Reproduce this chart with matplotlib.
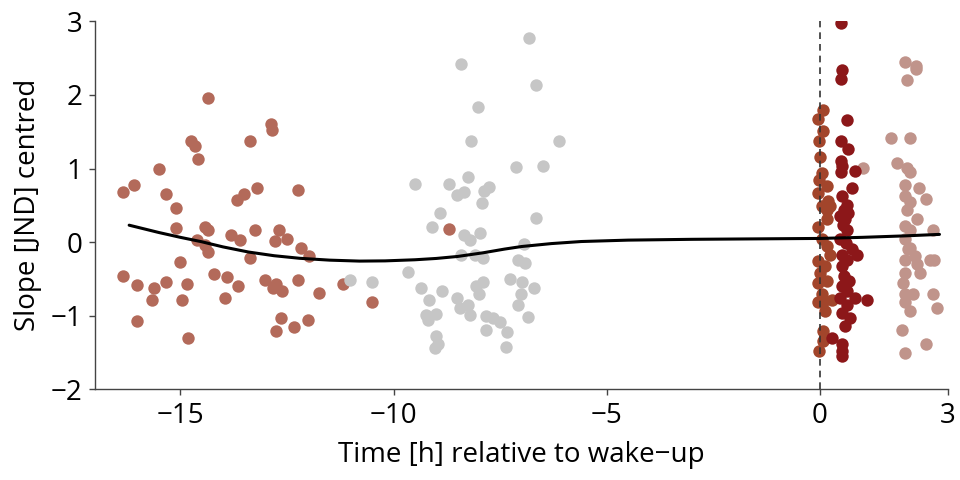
import matplotlib
matplotlib.use('Agg')
import matplotlib.pyplot as plt

# group 1: evening sessions (brown)
x_eve = [-14.34, -12.88, -12.86, -14.76, -14.66, -13.36, -14.59, -15.51, -16.35, -16.09,
         -15.34, -15.09, -13.68, -13.51, -13.21, -12.23, -15.10, -14.43, -14.34, -13.82,
         -13.59, -13.26, -12.69, -12.77, -12.50, -12.18, -11.98, -14.62, -14.42, -14.34,
         -13.37, -15.01, -16.35, -16.01, -15.62, -15.34, -14.84, -15.67, -14.96, -14.20,
         -13.91, -13.64, -13.96, -13.01, -12.75, -12.83, -12.61, -12.25, -11.75, -11.18,
         -16.01, -14.82, -12.64, -12.75, -12.34, -12.01, -10.51, -8.70]
y_eve = [1.96, 1.61, 1.52, 1.38, 1.31, 1.37, 1.13, 1.00, 0.68, 0.77,
         0.66, 0.47, 0.57, 0.66, 0.73, 0.71, 0.19, 0.20, 0.16, 0.10,
         0.03, 0.16, 0.17, 0.01, 0.04, -0.08, -0.19, 0.03, -0.04, -0.14,
         -0.22, -0.27, -0.46, -0.58, -0.62, -0.54, -0.57, -0.79, -0.78, -0.43,
         -0.48, -0.60, -0.76, -0.52, -0.57, -0.63, -0.67, -0.51, -0.69, -0.57,
         -1.07, -1.30, -1.03, -1.21, -1.16, -1.06, -0.82, 0.18]

# group 2: night (grey)
x_night = [-6.83, -8.42, -6.67, -8.01, -8.19, -6.11, -7.13, -6.49, -9.50, -8.69,
           -8.26, -8.52, -8.34, -7.87, -7.76, -7.92, -8.92, -9.10, -6.67, -8.35,
           -8.20, -7.97, -8.42, -8.10, -7.90, -6.95, -7.08, -6.92, -11.03, -10.51,
           -9.67, -9.35, -8.86, -9.17, -8.51, -8.07, -7.91, -7.99, -7.26, -7.00,
           -6.71, -7.01, -8.25, -8.45, -8.20, -9.25, -9.00, -9.19, -7.84, -7.67,
           -7.50, -7.84, -7.34, -7.09, -6.84, -9.01, -8.96, -9.02, -7.37]
y_night = [2.78, 2.42, 2.13, 1.83, 1.38, 1.38, 1.02, 1.04, 0.79, 0.79,
           0.88, 0.64, 0.68, 0.69, 0.75, 0.53, 0.39, 0.20, 0.33, 0.10,
           0.03, 0.12, -0.17, -0.18, -0.22, -0.02, -0.24, -0.29, -0.51, -0.54,
           -0.40, -0.63, -0.66, -0.79, -0.76, -0.60, -0.54, -0.70, -0.50, -0.54,
           -0.62, -0.70, -0.85, -0.90, -0.99, -0.99, -0.98, -1.06, -1.00, -1.03,
           -1.09, -1.19, -1.22, -0.86, -1.02, -1.28, -1.38, -1.44, -1.43]

# group 3: at wake-up (orange-brown)
x_wake = [0.08, -0.04, 0.08, -0.02, 0.00, 0.04, -0.02, 0.16, -0.04, 0.19,
          0.04, 0.23, 0.16, -0.04, 0.04, 0.16, 0.23, -0.04, 0.12, 0.00,
          0.16, -0.04, 0.04, 0.27, -0.04, 0.12, 0.08, 0.08, -0.02, 0.16, 0.08]
y_wake = [1.80, 1.67, 1.51, 1.38, 1.15, 0.94, 0.85, 0.76, 0.67, 0.56,
          0.49, 0.49, 0.31, 0.20, 0.04, -0.05, -0.18, -0.26, -0.33, -0.42,
          -0.53, -0.55, -0.71, -0.78, -0.82, -0.94, -1.21, -1.35, -1.48, 0.44, -0.82]

# group 4: shortly after wake-up (dark red)
x_early = [0.49, 0.52, 0.49, 0.64, 0.49, 0.66, 0.49, 0.51, 0.83, 0.50,
           0.74, 0.51, 0.63, 0.55, 0.66, 0.47, 0.59, 0.53, 0.63, 0.47,
           0.61, 0.74, 0.86, 0.51, 0.63, 0.51, 0.55, 0.69, 0.51, 0.64,
           0.47, 0.82, 1.10, 0.63, 0.51, 0.70, 0.59, 0.27, 0.51, 0.51, 0.51]
y_early = [2.98, 2.34, 2.22, 1.66, 1.37, 1.27, 1.10, 1.04, 0.96, 0.95,
           0.73, 0.63, 0.51, 0.44, 0.39, 0.35, 0.31, 0.23, 0.17, 0.04,
           -0.01, -0.09, -0.17, -0.18, -0.24, -0.33, -0.46, -0.53, -0.60, -0.67,
           -0.76, -0.76, -0.79, -0.85, -0.96, -1.03, -1.14, -1.30, -1.39, -1.48, -1.55]

# group 5: later morning (pale rose)
x_late = [1.99, 2.25, 2.25, 2.03, 1.67, 2.10, 1.00, 1.81, 2.03, 2.10,
          1.99, 2.33, 1.99, 2.49, 2.11, 2.03, 2.27, 1.99, 2.11, 2.64,
          1.99, 2.11, 2.23, 1.99, 2.58, 2.67, 2.27, 1.99, 2.35, 1.99,
          2.18, 2.66, 1.99, 2.74, 2.10, 1.92, 2.49, 1.99, 1.95, 2.07]
y_late = [2.45, 2.40, 2.35, 2.20, 1.41, 1.41, 1.01, 1.07, 1.01, 0.95,
          0.78, 0.73, 0.63, 0.59, 0.54, 0.44, 0.31, 0.22, 0.17, 0.17,
          0.04, -0.08, -0.19, -0.24, -0.24, -0.24, -0.30, -0.42, -0.42, -0.71,
          -0.71, -0.70, -0.82, -0.89, -0.94, -1.19, -1.39, -1.51, -0.55, -0.10]

# smooth trend
x_fit = [-16.2, -15.5, -15.0, -14.5, -14.0, -13.4, -12.8, -12.2, -11.5, -10.8, -10.2,
         -9.5, -9.0, -8.5, -7.9, -7.4, -7.0, -6.3, -5.6, -4.5, -3.0, -1.5, 0.0, 1.0, 2.0, 2.8]
y_fit = [0.23, 0.13, 0.065, 0.005, -0.065, -0.135, -0.185, -0.22, -0.245, -0.258, -0.255,
         -0.24, -0.222, -0.195, -0.145, -0.095, -0.06, -0.02, 0.008, 0.027, 0.038, 0.044,
         0.05, 0.065, 0.085, 0.105]

plt.rcParams['font.family'] = ['Open Sans', 'DejaVu Sans']

fig = plt.figure(figsize=(9.6, 4.8), dpi=100)
ax = fig.add_axes([0.099, 0.189, 0.8885, 0.7665])

ms = 80
ax.scatter(x_eve, y_eve, s=ms, color='#b36a5a', linewidths=0, zorder=2)
ax.scatter(x_night, y_night, s=ms, color='#c6c6c6', linewidths=0, zorder=2)
ax.scatter(x_late, y_late, s=ms, color='#c0948b', linewidths=0, zorder=2)
ax.scatter(x_wake, y_wake, s=ms, color='#a2452b', linewidths=0, zorder=2)
ax.scatter(x_early, y_early, s=ms, color='#8c1719', linewidths=0, zorder=2)

ax.plot(x_fit, y_fit, color='black', lw=2.2, zorder=4, solid_capstyle='round')
ax.axvline(0, color='#333333', lw=1.2, ls=(0, (4, 3)), zorder=3)

ax.set_xlim(-17, 3)
ax.set_ylim(-2, 3)
ax.set_xticks([-15, -10, -5, 0, 3])
ax.set_xticklabels(['\u221215', '\u221210', '\u22125', '0', '3'])
ax.set_yticks([-2, -1, 0, 1, 2, 3])
ax.set_yticklabels(['\u22122', '\u22121', '0', '1', '2', '3'])

for side in ['top', 'right']:
    ax.spines[side].set_visible(False)
for side in ['left', 'bottom']:
    ax.spines[side].set_color('#444444')
    ax.spines[side].set_linewidth(1.0)
ax.tick_params(direction='out', length=4, width=1, color='#444444', labelsize=20, pad=5)

ax.set_xlabel('Time [h] relative to wake\u2212up', fontsize=20, labelpad=8)
ax.set_ylabel('Slope [JND] centred', fontsize=20, labelpad=6)

fig.savefig('out.png', dpi=100)
